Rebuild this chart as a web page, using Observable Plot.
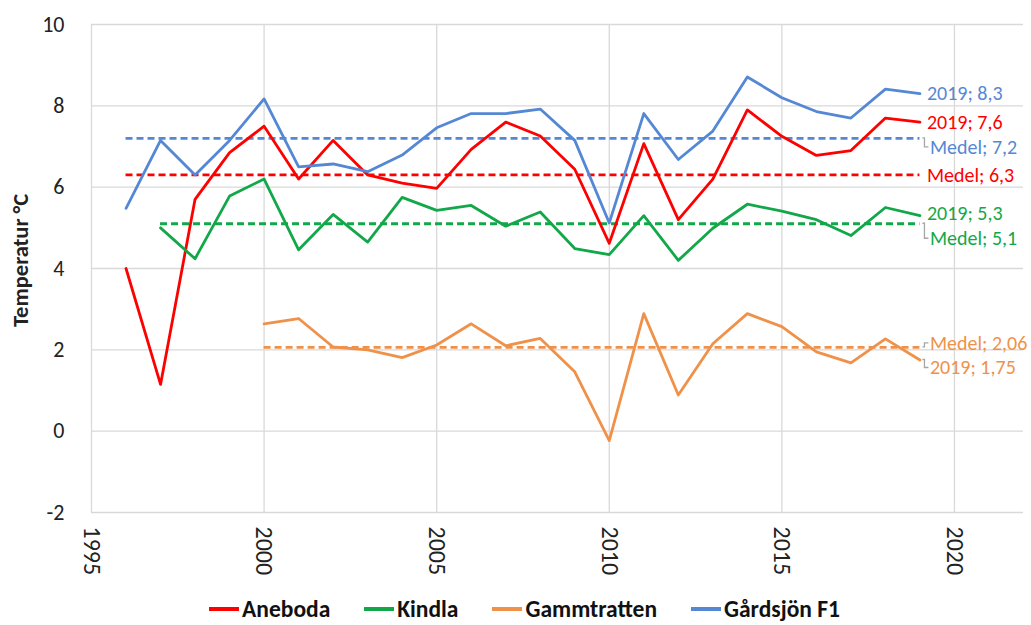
<!DOCTYPE html>
<html>
<head>
<meta charset="utf-8">
<script src="https://cdn.jsdelivr.net/npm/d3@7"></script>
<script src="https://cdn.jsdelivr.net/npm/@observablehq/plot@0.6"></script>
<style>
  body { margin: 0; background: #fff; font-family: Carlito, Lato, sans-serif; }
  #legend { display: flex; justify-content: center; gap: 34px; margin-top: 10px; margin-left: 18px;
            font-weight: bold; font-size: 23.5px; line-height: 28px; color: #111; }
  .item { display: flex; align-items: center; }
  .sw { width: 30px; height: 3.5px; margin-right: 3px; }
</style>
</head>
<body>
<div id="chart"></div>
<div id="legend"></div>
<script>
const years = [1996,1997,1998,1999,2000,2001,2002,2003,2004,2005,2006,2007,2008,2009,2010,2011,2012,2013,2014,2015,2016,2017,2018,2019];
const aneboda = [4.0,1.15,5.7,6.85,7.5,6.2,7.15,6.3,6.1,5.97,6.93,7.6,7.26,6.44,4.62,7.07,5.2,6.2,7.9,7.25,6.78,6.9,7.7,7.6];
const kindla = [null,5.0,4.24,5.78,6.2,4.46,5.33,4.65,5.75,5.43,5.55,5.04,5.39,4.49,4.34,5.3,4.2,4.99,5.58,5.41,5.2,4.81,5.5,5.3];
const gammtratten = [null,null,null,null,2.64,2.77,2.07,2.0,1.81,2.12,2.64,2.1,2.28,1.46,-0.23,2.89,0.89,2.15,2.89,2.57,1.95,1.68,2.27,1.75];
const gardsjon = [5.48,7.15,6.3,7.15,8.17,6.5,6.57,6.38,6.79,7.46,7.81,7.81,7.92,7.15,5.12,7.81,6.68,7.38,8.71,8.2,7.86,7.7,8.41,8.3];

const seriesNames = ["Aneboda","Kindla","Gammtratten","Gårdsjön F1"];
const seriesColors = ["#ff0000","#12a84a","#f0914a","#5588d4"];
const seriesValues = [aneboda, kindla, gammtratten, gardsjon];
const meanValues = [6.3, 5.1, 2.06, 7.2];
const meanStart = [1996, 1997, 2000, 1996];
const meanEnd = 2019;
const lastValues = [7.6, 5.3, 1.75, 8.3];
const yTicks = [-2,0,2,4,6,8,10];
const xTicks = [1995,2000,2005,2010,2015,2020];

// label offsets (px) to avoid overlaps, as in the original
const lastDy = [0, -2, 8, 0];
const meanDy = [1, 15, -4, 9];

const color = Plot.scale({color: {domain: seriesNames, range: seriesColors}});

const rows = [];
seriesValues.forEach((vals, s) => vals.forEach((v, i) => rows.push({series: seriesNames[s], year: years[i], value: v})));

const means = seriesNames.map((n, i) => ({series: n, value: meanValues[i], x1: meanStart[i], x2: meanEnd, dy: meanDy[i],
  label: "Medel; " + String(meanValues[i]).replace(".", ",")}));
const lasts = seriesNames.map((n, i) => ({series: n, value: lastValues[i], dy: lastDy[i],
  label: meanEnd + "; " + String(lastValues[i]).replace(".", ",")}));
const labels = [...lasts, ...means];

const labelMarks = labels.map(d => Plot.text([d], {
  x: () => meanEnd, y: "value", text: "label", fill: color.apply(d.series),
  dx: Math.abs(d.dy) > 3 ? 10 : 7, dy: d.dy, textAnchor: "start", fontSize: 20
}));

// gray leader brackets drawn with the plot's own scales
const leaders = (index, scales) => {
  const g = d3.create("svg:g").attr("fill", "none").attr("stroke", "#a6a6a6").attr("stroke-width", 1.3);
  labels.filter(d => Math.abs(d.dy) > 3).forEach(d => {
    const x0 = scales.x(meanEnd) + 3, y0 = scales.y(d.value), y1 = y0 + d.dy;
    g.append("path").attr("d", `M${x0},${y0}H${x0 + 2}V${y1}H${x0 + 6}`);
  });
  return g.node();
};

const chart = Plot.plot({
  width: 1031,
  height: 585,
  marginLeft: 91,
  marginRight: 8,
  marginTop: 24,
  marginBottom: 73,
  style: {fontFamily: "Carlito, Lato, sans-serif", color: "#222"},
  x: {domain: [1995, 2022]},
  y: {domain: [-2, 10]},
  marks: [
    Plot.gridX(xTicks, {stroke: "#d9d9d9", strokeOpacity: 1, strokeWidth: 1.3}),
    Plot.gridY(yTicks, {stroke: "#d9d9d9", strokeOpacity: 1, strokeWidth: 1.3}),
    Plot.axisY(yTicks, {tickSize: 0, tickPadding: 27, fontSize: 22, tickFormat: d => String(d), label: null}),
    Plot.axisX(xTicks, {tickSize: 0, tickPadding: 14, tickRotate: 90, fontSize: 24, tickFormat: d => String(d), label: null}),
    Plot.text(["Temperatur °C"], {frameAnchor: "left", textAnchor: "middle", rotate: -90, dx: -71, dy: -8, fontWeight: "bold", fontSize: 22.5}),
    Plot.ruleY(means, {y: "value", x1: "x1", x2: "x2", stroke: d => color.apply(d.series), strokeWidth: 2.8, strokeDasharray: "7,4"}),
    Plot.line(rows, {x: "year", y: "value", z: "series", stroke: d => color.apply(d.series), strokeWidth: 2.8, defined: d => d.value != null}),
    leaders,
    ...labelMarks
  ]
});
document.getElementById("chart").appendChild(chart);

const legend = document.getElementById("legend");
seriesNames.forEach((n, i) => {
  const it = document.createElement("div");
  it.className = "item";
  const sw = document.createElement("span");
  sw.className = "sw";
  sw.style.background = seriesColors[i];
  it.appendChild(sw);
  it.appendChild(document.createTextNode(n));
  legend.appendChild(it);
});
</script>
</body>
</html>
